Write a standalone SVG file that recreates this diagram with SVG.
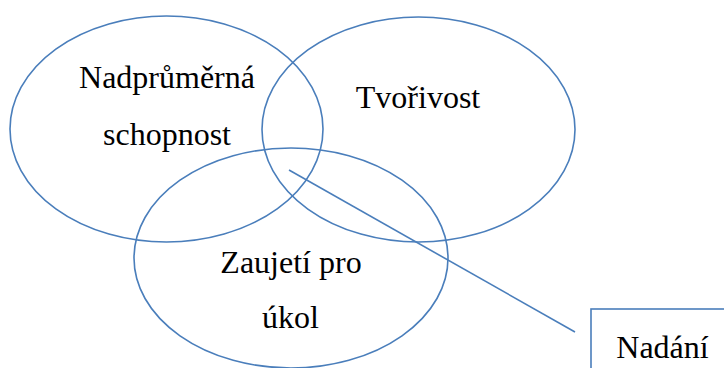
<svg xmlns="http://www.w3.org/2000/svg" width="724" height="368" viewBox="0 0 724 368">
<style>
.sh{fill:none;stroke:#4A7EBB;stroke-width:1.6}
.t{font-family:'Liberation Serif','Times New Roman',Times,serif;font-size:32px;fill:#000;text-anchor:middle}
</style>
<rect width="724" height="368" fill="#fff"/>
<g id="schopnost">
<ellipse class="sh" cx="166.5" cy="129" rx="156.5" ry="113"/>
<text class="t" x="167" y="88" font-family="Liberation Serif, serif">Nadprůměrná</text>
<text class="t" x="167" y="145" font-family="Liberation Serif, serif">schopnost</text>
</g>
<g id="tvorivost">
<ellipse class="sh" cx="418.5" cy="129.5" rx="156.5" ry="112.5"/>
<text class="t" x="418" y="108" font-family="Liberation Serif, serif">Tvořivost</text>
</g>
<g id="zaujeti">
<ellipse class="sh" cx="291" cy="258" rx="157" ry="110"/>
<text class="t" x="291" y="273" font-family="Liberation Serif, serif">Zaujetí pro</text>
<text class="t" x="290.5" y="328" font-family="Liberation Serif, serif">úkol</text>
</g>
<g id="connectors">
<line class="sh" x1="289" y1="170" x2="575" y2="332"/>
</g>
<g id="nadani">
<rect class="sh" x="591" y="309" width="150" height="80"/>
<text class="t" x="662.5" y="358" font-family="Liberation Serif, serif">Nadání</text>
</g>
</svg>
